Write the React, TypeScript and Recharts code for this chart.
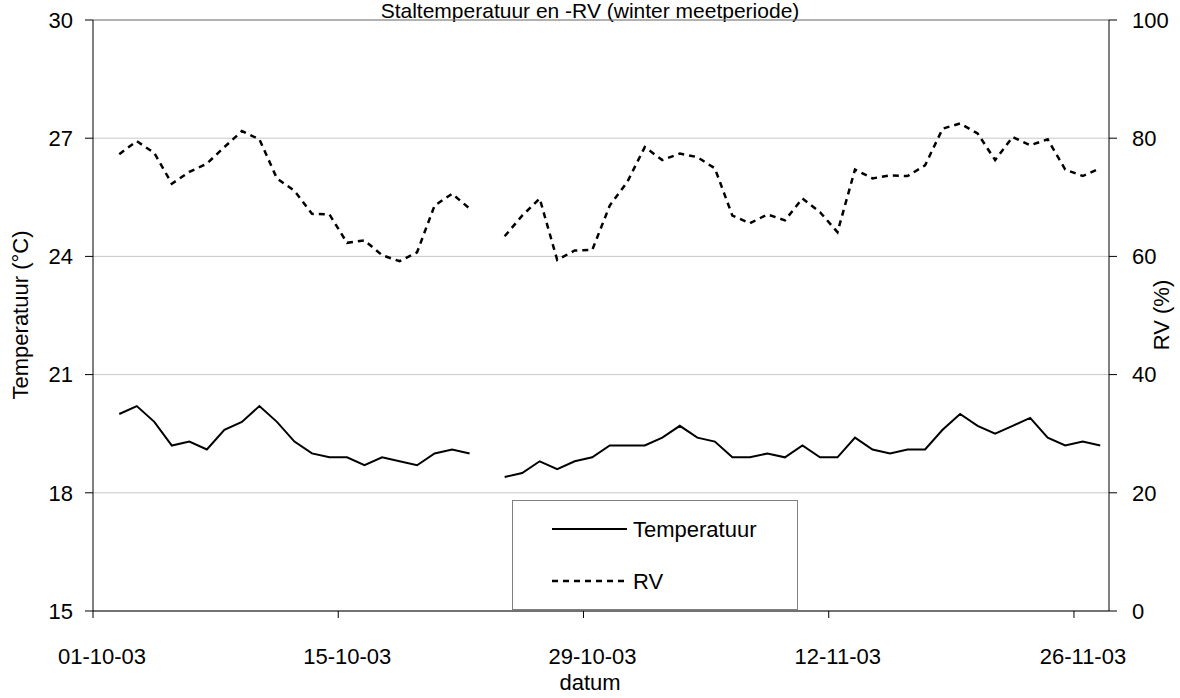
import React from 'react';
import { LineChart, Line, XAxis, YAxis, CartesianGrid, Legend, ReferenceLine } from 'recharts';

const FONT = '"Liberation Sans", Arial, sans-serif';

const dates = [
  '02-10-03', '03-10-03', '04-10-03', '05-10-03', '06-10-03', '07-10-03', '08-10-03', '09-10-03', '10-10-03',
  '11-10-03', '12-10-03', '13-10-03', '14-10-03', '15-10-03', '16-10-03', '17-10-03', '18-10-03', '19-10-03',
  '20-10-03', '21-10-03', '22-10-03', '23-10-03', '24-10-03', '25-10-03', '26-10-03', '27-10-03', '28-10-03',
  '29-10-03', '30-10-03', '31-10-03', '01-11-03', '02-11-03', '03-11-03', '04-11-03', '05-11-03', '06-11-03',
  '07-11-03', '08-11-03', '09-11-03', '10-11-03', '11-11-03', '12-11-03', '13-11-03', '14-11-03', '15-11-03',
  '16-11-03', '17-11-03', '18-11-03', '19-11-03', '20-11-03', '21-11-03', '22-11-03', '23-11-03', '24-11-03',
  '25-11-03', '26-11-03', '27-11-03',
];

const temperatuur: (number | null)[] = [
  20.0, 20.2, 19.8, 19.2, 19.3, 19.1, 19.6, 19.8, 20.2, 19.8, 19.3, 19.0, 18.9, 18.9, 18.7, 18.9, 18.8, 18.7, 19.0, 19.1, 19.0,
  null,
  18.4, 18.5, 18.8, 18.6, 18.8, 18.9, 19.2, 19.2, 19.2, 19.4, 19.7, 19.4, 19.3, 18.9, 18.9, 19.0, 18.9, 19.2,
  18.9, 18.9, 19.4, 19.1, 19.0, 19.1, 19.1, 19.6, 20.0, 19.7, 19.5, 19.7, 19.9, 19.4, 19.2, 19.3, 19.2,
];

const rv: (number | null)[] = [
  77.3, 79.5, 77.5, 72.3, 74.3, 75.7, 78.5, 81.2, 79.8, 73.2, 71.1, 67.2, 67.1, 62.3, 62.7, 60.2, 59.2, 60.7, 68.6, 70.6, 68.1,
  null,
  63.4, 66.9, 69.8, 59.4, 61.0, 61.1, 68.6, 72.6, 78.5, 76.3, 77.4, 76.8, 74.9, 66.9, 65.6, 67.1, 66.1, 69.8,
  67.5, 64.1, 74.7, 73.2, 73.7, 73.6, 75.4, 81.6, 82.5, 80.8, 76.3, 80.2, 78.8, 79.8, 74.7, 73.6, 74.9,
];

const xTickLabels = ['01-10-03', '15-10-03', '29-10-03', '12-11-03', '26-11-03'];
const axisStart = '01-10-03';
const axisEnd = '28-11-03';
const tempTicks = [15, 18, 21, 24, 27, 30];
const rvTicks = [0, 20, 40, 60, 80, 100];

const dayOffset = (d: string) => {
  const [dd, mm] = d.split('-').map(Number);
  return (mm === 11 ? 31 : 0) + dd - 1;
};

const data = dates.map((d, i) => ({
  datum: d,
  x: dayOffset(d) + 0.5,
  temperatuur: temperatuur[i],
  rv: rv[i],
}));

const xTicks = xTickLabels.map(dayOffset);

const renderLegend = () => (
  <div
    style={{
      width: 286,
      height: 110,
      boxSizing: 'border-box',
      border: '1px solid #808080',
      background: '#fff',
    }}
  >
    <svg width={284} height={108} style={{ display: 'block' }}>
      <line x1={39} x2={114} y1={28} y2={28} stroke="#000" strokeWidth={2} />
      <text x={120} y={28} dominantBaseline="central" fontSize={22} fontFamily={FONT} fill="#000">
        Temperatuur
      </text>
      <line x1={39} x2={114} y1={80} y2={80} stroke="#000" strokeWidth={2.5} strokeDasharray="6 5" />
      <text x={120} y={80} dominantBaseline="central" fontSize={22} fontFamily={FONT} fill="#000">
        RV
      </text>
    </svg>
  </div>
);

const tickStyle = { fontSize: 22, fontFamily: FONT, fill: '#000' };

export default function App() {
  return (
    <div style={{ position: 'absolute', left: 0, top: 0, width: 1180, height: 698, background: '#fff' }}>
      <LineChart
        width={1180}
        height={698}
        data={data}
        margin={{ top: 20, right: 0, bottom: 0, left: 0 }}
      >
        <CartesianGrid yAxisId="left" vertical={false} stroke="#c8c8c8" />
        <XAxis
          type="number"
          dataKey="x"
          domain={[dayOffset(axisStart), dayOffset(axisEnd)]}
          ticks={xTicks}
          tickFormatter={(v: number) => xTickLabels[xTicks.indexOf(v)] ?? ''}
          height={87}
          tickSize={7}
          tickMargin={30}
          tick={{ ...tickStyle, dx: 9 }}
          axisLine={{ stroke: '#000' }}
          tickLine={{ stroke: '#000' }}
          interval={0}
          allowDecimals
        />
        <YAxis
          yAxisId="left"
          orientation="left"
          domain={[15, 30]}
          ticks={tempTicks}
          width={93}
          tickSize={8}
          tickMargin={12}
          tick={tickStyle}
          axisLine={{ stroke: '#000' }}
          tickLine={{ stroke: '#000' }}
          interval={0}
        />
        <YAxis
          yAxisId="right"
          orientation="right"
          domain={[0, 100]}
          ticks={rvTicks}
          width={71}
          tickSize={8}
          tickMargin={15}
          tick={tickStyle}
          axisLine={{ stroke: '#000' }}
          tickLine={{ stroke: '#000' }}
          interval={0}
        />
        <ReferenceLine yAxisId="left" y={30} stroke="#808080" />
        <Line
          yAxisId="left"
          type="linear"
          dataKey="temperatuur"
          name="Temperatuur"
          stroke="#000"
          strokeWidth={2}
          dot={false}
          connectNulls={false}
          isAnimationActive={false}
        />
        <Line
          yAxisId="right"
          type="linear"
          dataKey="rv"
          name="RV"
          stroke="#000"
          strokeWidth={2.5}
          strokeDasharray="6 5"
          dot={false}
          connectNulls={false}
          isAnimationActive={false}
        />
        <Legend
          layout="vertical"
          align="center"
          verticalAlign="middle"
          wrapperStyle={{ left: 512, top: 500, width: 286, height: 110 }}
          content={renderLegend}
        />
        <text x={590} y={18} textAnchor="middle" fontSize={21} fontFamily={FONT} fill="#000">
          Staltemperatuur en -RV (winter meetperiode)
        </text>
        <text x={590} y={690} textAnchor="middle" fontSize={22} fontFamily={FONT} fill="#000">
          datum
        </text>
        <text
          x={20}
          y={315}
          textAnchor="middle"
          dominantBaseline="central"
          transform="rotate(-90 20 315)"
          fontSize={22}
          fontFamily={FONT}
          fill="#000"
        >
          Temperatuur (°C)
        </text>
        <text
          x={1161}
          y={315}
          textAnchor="middle"
          dominantBaseline="central"
          transform="rotate(-90 1161 315)"
          fontSize={22}
          fontFamily={FONT}
          fill="#000"
        >
          RV (%)
        </text>
      </LineChart>
    </div>
  );
}
